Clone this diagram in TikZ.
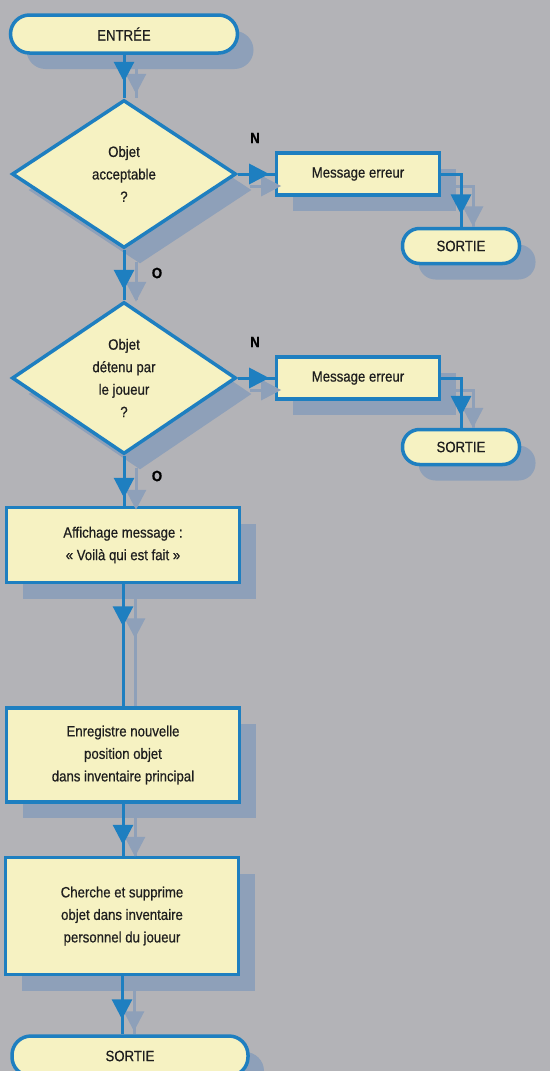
\documentclass[tikz,border=0pt]{standalone}
\usepackage{fontspec}
\setmainfont{Liberation Sans}[FakeStretch=0.88,FakeBold=0.6]
\usetikzlibrary{shapes.geometric,arrows.meta,decorations.markings,shadows}
\definecolor{fondc}{HTML}{B3B3B7}
\definecolor{cadrec}{HTML}{1E7FC0}
\definecolor{remplic}{HTML}{F6F2C2}
\definecolor{ombrec}{HTML}{8EA0B9}
\definecolor{textec}{HTML}{1E1E1E}
\tikzset{
  base/.style={draw=cadrec, line width=3.5pt, fill=remplic, text=textec, align=center,
    font=\fontsize{15}{22.5}\selectfont, inner sep=0pt,
    general shadow={fill=ombrec, shadow xshift=16pt, shadow yshift=-16pt}},
  terminal/.style={base, rectangle, rounded corners=19pt, minimum height=38pt},
  boite/.style={base, rectangle, minimum width=233pt},
  test/.style={base, diamond, minimum width=224pt},
  etiq/.style={text=black, font=\fontsize{15}{18}\bfseries},
  lien/.style={draw=cadrec, line width=3pt},
  lienombre/.style={draw=ombrec, line width=3pt, shorten >=12pt,
    transform canvas={shift={(12pt,-12pt)}}},
  fleche/.style={postaction={decorate}, decoration={markings,
    mark=at position #1 with {\arrow{Triangle[width=20pt,length=20pt]}}}}
}
\begin{document}
\begin{tikzpicture}[x=1pt,y=-1pt]
  \useasboundingbox (0,0) rectangle (550,1071);
  \fill[fondc] (0,0) rectangle (550,1071);
  % colonne principale
  \node[terminal, minimum width=227pt] (entree) at (124,34) {ENTRÉE};
  \node[test, minimum height=148pt] (q1) at (124,174) {Objet\\acceptable\\?};
  \node[test, minimum height=152pt] (q2) at (124,378) {Objet\\détenu par\\le joueur\\?};
  \node[boite, minimum height=75pt] (aff) at (123,545) {Affichage message :\\« Voilà qui est fait »};
  \node[boite, minimum height=94pt] (enr) at (123,755) {Enregistre nouvelle\\position objet\\dans inventaire principal};
  \node[boite, minimum height=117pt] (cher) at (122,916) {Cherche et supprime\\objet dans inventaire\\personnel du joueur};
  \node[terminal, minimum width=236pt, minimum height=40pt] (sortie3) at (130,1056) {SORTIE};
  % branches d'erreur
  \node[boite, minimum width=163pt, minimum height=42pt] (err1) at (358,174) {Message erreur};
  \node[terminal, minimum width=117pt, minimum height=35pt, rounded corners=17pt] (sortie1) at (461,246) {SORTIE};
  \node[boite, minimum width=163pt, minimum height=42pt] (err2) at (358,378) {Message erreur};
  \node[terminal, minimum width=117pt, minimum height=35pt, rounded corners=17pt] (sortie2) at (461,447) {SORTIE};
  % etiquettes
  \node[etiq] (n1) at (255,138) {N};
  \node[etiq] (o1) at (157,273) {O};
  \node[etiq] (n2) at (255,342) {N};
  \node[etiq] (o2) at (157,476) {O};
  % liaisons
  \foreach \a/\b/\p in {entree/q1/27pt, q1/q2/40pt, q2/aff/42pt, aff/enr/42pt, enr/cher/41pt, cher/sortie3/43pt}{
    \draw[lienombre, fleche=\p] (\a.south) -- (\a.south |- \b.north);
    \draw[lien, fleche=\p] (\a.south) -- (\a.south |- \b.north);
  }
  \foreach \a/\b in {q1/err1, q2/err2}{
    \draw[lienombre, fleche=0.85] (\a.east) -- (\a.east -| \b.west);
    \draw[lien, fleche=0.85] (\a.east) -- (\a.east -| \b.west);
  }
  \foreach \a/\b in {err1/sortie1, err2/sortie2}{
    \draw[lienombre, fleche=0.83] (\a.east) -| (\b.north);
    \draw[lien, fleche=0.83] (\a.east) -| (\b.north);
  }
\end{tikzpicture}
\end{document}
